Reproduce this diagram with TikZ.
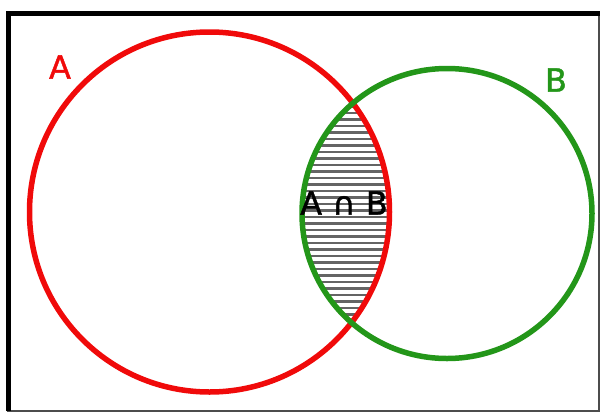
\documentclass[tikz,border=0pt]{standalone}
\usepackage{fontspec}
\setmainfont{DejaVu Sans}
\newfontfamily\setfont[FakeBold=1.3]{DejaVu Sans}
\usetikzlibrary{positioning}
\definecolor{setA}{RGB}{240,10,10}
\definecolor{setB}{RGB}{35,150,25}
\definecolor{hatch}{RGB}{100,100,100}

\begin{document}
\begin{tikzpicture}[x=1pt,y=-1pt,
  ring/.style={line width=5.5pt},
  lbl/.style={font=\fontsize{32}{32}\setfont,inner sep=0pt}
]
\useasboundingbox (0,0) rectangle (605,413);
% frame
\draw[line width=1.5pt,black!70] (8,13) rectangle (599,411);
\draw[line width=5pt] (8.5,411) -- (8.5,13.5) -- (600,13.5);
% centres
\coordinate (ca) at (209.5,212);
\coordinate (cb) at (447,213.5);
% hatched part
\begin{scope}
  \clip (ca) circle (180pt);
  \clip (cb) circle (145pt);
  \foreach \y in {100,106.5,...,330}
    \draw[hatch,line width=2.8pt] (290,\y) -- (400,\y);
\end{scope}
\draw[ring,setA] (ca) circle (180pt);
\draw[ring,setB] (cb) circle (145pt);
\node[lbl,setA] (a) at (60,67) {A};
\node[lbl,setB] (b) at (556,80) {B};
\node[lbl] (ab) at (344,203) {A ∩ B};
\end{tikzpicture}
\end{document}
